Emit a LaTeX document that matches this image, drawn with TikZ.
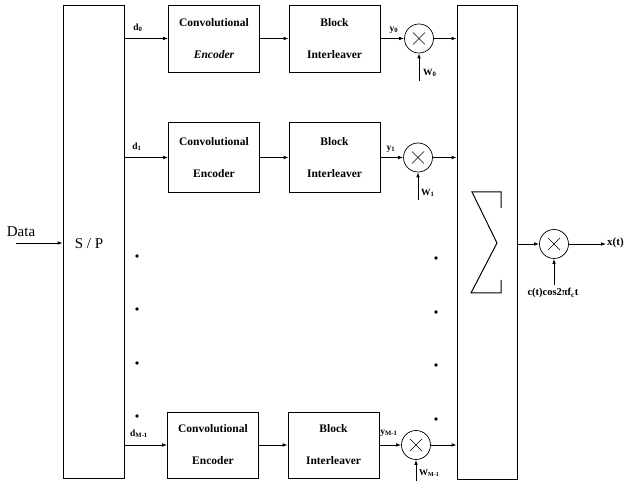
\documentclass[tikz,border=0pt]{standalone}
\usepackage{fontspec}
\setmainfont{Liberation Serif}
\usetikzlibrary{arrows.meta}
\begin{document}
\begin{tikzpicture}[x=1pt,y=-1pt,
  arr/.style={-{Latex[length=5pt,width=3.6pt]}, line width=0.8pt},
  blk/.style={draw, line width=0.7pt, inner sep=0pt, minimum width=91pt, minimum height=67pt,
    align=center, font=\bfseries\fontsize{11.5}{32}\selectfont},
  tall/.style={draw, line width=0.7pt, inner sep=0pt},
  mul/.style={draw, circle, line width=0.7pt, minimum size=29pt, inner sep=0pt,
    path picture={\draw[line width=0.4pt] ([shift={(-6,-6)}]path picture bounding box.center) -- ([shift={(6,6)}]path picture bounding box.center);
      \draw[line width=0.4pt] ([shift={(-6,6)}]path picture bounding box.center) -- ([shift={(6,-6)}]path picture bounding box.center);}},
  lab/.style={font=\bfseries\fontsize{9.5}{11}\selectfont, inner sep=0pt},
  big/.style={font=\fontsize{15}{17}\selectfont, inner sep=0pt},
  dotc/.style={circle, fill, inner sep=0pt, minimum size=3.6pt}
]
\useasboundingbox (0,0) rectangle (625,481);

% main tall boxes
\node[tall, minimum width=61pt, minimum height=473pt] (sp) at (93.5,241.5) {};
\node[big] (sptxt) at (89,244) {S / P};
\node[tall, minimum width=60pt, minimum height=474pt] (comb) at (487,242) {};

% sigma symbol inside combiner
\draw[line width=1pt] (501,208) -- (501,192) -- (472,192) -- (497,243) -- (471,293) -- (501,293) -- (501,280);

% data input
\coordinate (din) at (16,243);
\node[big] (data) at (21,232) {Data};
\draw[arr] (din) -- (din -| sp.west);

% row 0
\node[blk] (enc0) at (214,38.5) {Convolutional\\\textit{Encoder}};
\node[blk] (int0) at (334.5,38.5) {Block\\Interleaver};
\node[mul] (m0) at (419,38.5) {};
\draw[arr] (enc0.west -| sp.east) -- (enc0.west);
\draw[arr] (enc0.east) -- (int0.west);
\draw[arr] (int0.east) -- (m0.west);
\draw[arr] (m0.east) -- (m0.east -| comb.west);
\coordinate (w0) at (419,81);
\draw[arr] (w0) -- (m0.south);
\node[lab] (ld0) at (138,28) {d\textsubscript{0}};
\node[lab] (ly0) at (394,30) {y\textsubscript{0}};
\node[lab, anchor=west] (lw0) at (423,73) {W\textsubscript{0}};

% row 1
\node[blk, minimum height=70pt] (enc1) at (214,157.5) {Convolutional\\Encoder};
\node[blk, minimum height=70pt] (int1) at (334.5,157.5) {Block\\Interleaver};
\node[mul] (m1) at (418,157.5) {};
\draw[arr] (enc1.west -| sp.east) -- (enc1.west);
\draw[arr] (enc1.east) -- (int1.west);
\draw[arr] (int1.east) -- (m1.west);
\draw[arr] (m1.east) -- (m1.east -| comb.west);
\coordinate (w1) at (418,200);
\draw[arr] (w1) -- (m1.south);
\node[lab] (ld1) at (137,147) {d\textsubscript{1}};
\node[lab] (ly1) at (391,149) {y\textsubscript{1}};
\node[lab, anchor=west] (lw1) at (421,193) {W\textsubscript{1}};

% row M-1
\node[blk, minimum height=66pt] (encM) at (213,445) {Convolutional\\Encoder};
\node[blk, minimum height=66pt] (intM) at (333.5,445) {Block\\Interleaver};
\node[mul] (mM) at (416,445) {};
\draw[arr] (encM.west -| sp.east) -- (encM.west);
\draw[arr] (encM.east) -- (intM.west);
\draw[arr] (intM.east) -- (mM.west);
\draw[arr] (mM.east) -- (mM.east -| comb.west);
\coordinate (wM) at (416,485);
\draw[arr] (wM) -- (mM.south);
\node[lab] (ldM) at (139,434) {d\textsubscript{M-1}};
\node[lab] (lyM) at (389,433) {y\textsubscript{M-1}};
\node[lab, anchor=west, font=\bfseries\fontsize{9}{10}\selectfont] (lwM) at (419,473.5) {W\textsubscript{M-1}};

% dots
\foreach \yy [count=\i] in {256,309,363,416} { \node[dotc] (dl\i) at (137,\yy) {}; }
\foreach \yy [count=\i] in {258,312,365,419} { \node[dotc] (dr\i) at (436,\yy) {}; }

% output modulator
\node[mul] (mo) at (554,244) {};
\draw[arr] (mo.west -| comb.east) -- (mo.west);
\coordinate (xo) at (606,244);
\draw[arr] (mo.east) -- (xo);
\node[lab, font=\bfseries\fontsize{11}{12}\selectfont, anchor=west] (xt) at (607,243) {x(t)};
\coordinate (cin) at (554,285);
\draw[arr] (cin) -- (mo.south);
\node[lab, font=\bfseries\fontsize{10.5}{12}\selectfont] (ct) at (553,293) {c(t)cos2πf\textsubscript{c}t};
\end{tikzpicture}
\end{document}
